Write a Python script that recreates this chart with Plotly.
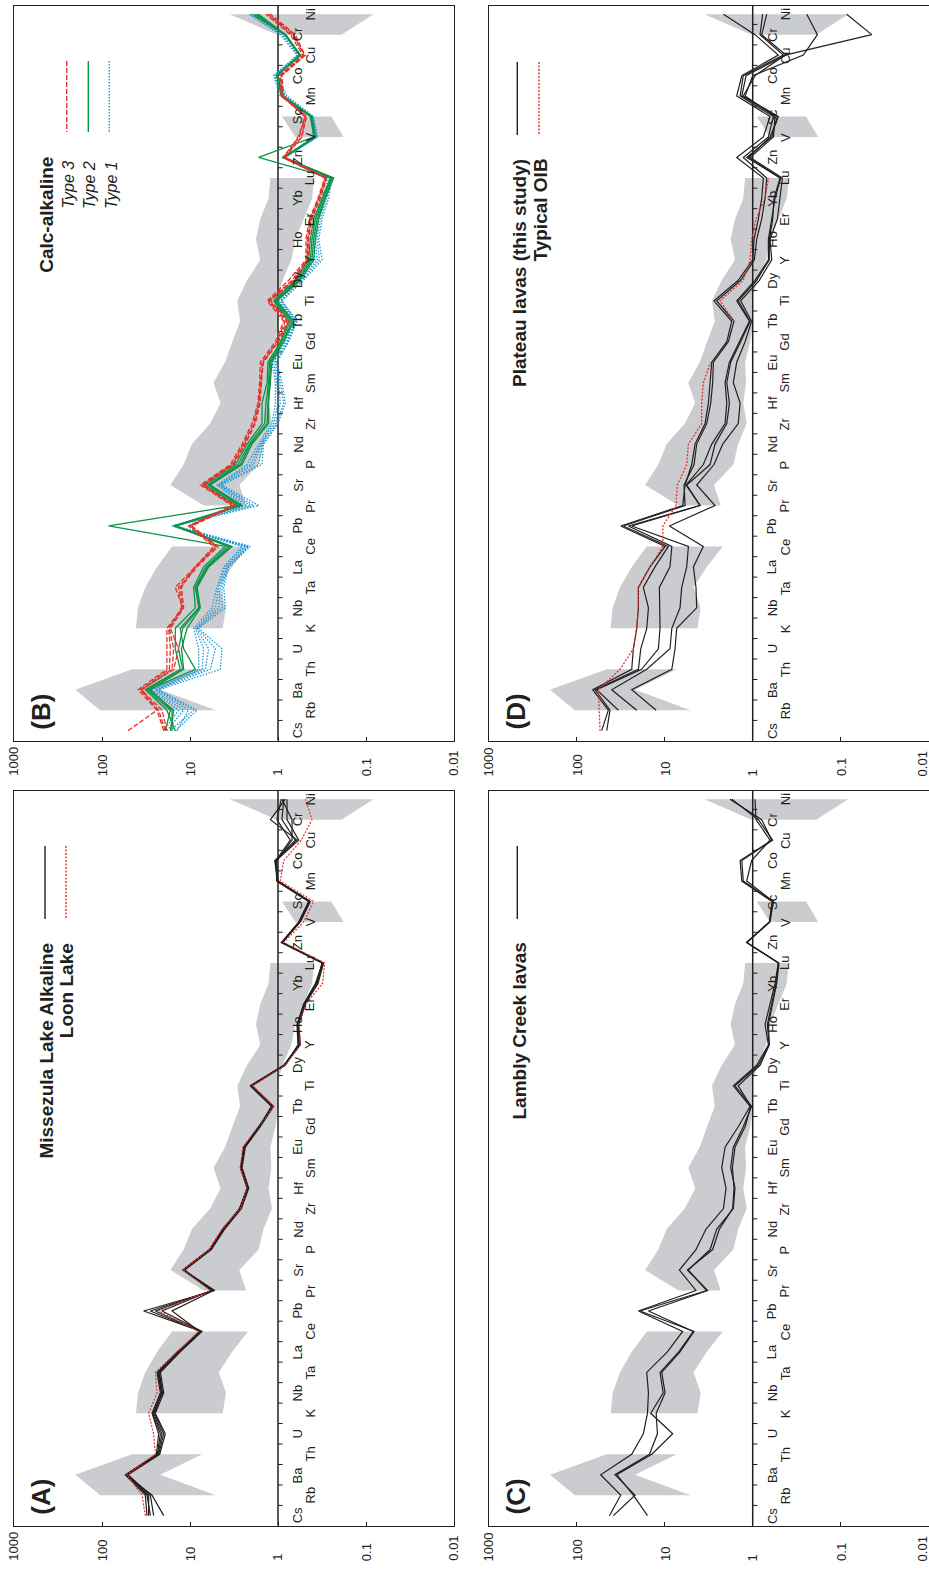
import math
import plotly.graph_objects as go

W, H = 929, 1569
N = None

ELEMENTS = ["Cs", "Rb", "Ba", "Th", "U", "K", "Nb", "Ta", "La", "Ce", "Pb", "Pr", "Sr", "P",
            "Nd", "Zr", "Hf", "Sm", "Eu", "Gd", "Tb", "Ti", "Dy", "Y", "Ho", "Er", "Yb", "Lu",
            "Zn", "V", "Sc", "Mn", "Co", "Cu", "Cr", "Ni"]

TICK_VALUES = [1000, 100, 10, 1, 0.1, 0.01]
TICK_TEXT = ["1000", "100", "10", "1", "0.1", "0.01"]

# grey reference field (upper / lower bounds, None = gap)
FIELD_UPPER = [N, 105, 201, 45.6, N, 41.1, 39.0, 32.2, 23.7, 16.0, N, 7.0, 16.7, 11.8, 9.5, 5.9,
               4.5, 5.4, 4.0, 3.3, 2.7, 2.9, 2.25, 1.59, 1.78, 1.59, 1.28, 1.22, N, 0.635, 0.90,
               N, N, N, 1.03, 3.54]
FIELD_LOWER = [N, 5.07, 21.7, 7.3, N, 4.25, 3.9, 4.7, 3.33, 2.19, N, 2.31, 2.75, 1.66, 1.46, 1.17,
               1.28, 1.19, 1.22, 1.07, 0.98, 1.03, 0.885, 0.705, 0.635, 0.51, 0.41, 0.39, N, 0.18,
               0.248, N, N, N, 0.19, 0.082]

# ---- Panel A: Missezula Lake Alkaline (black) + Loon Lake (red) ----
A_MISSEZULA = [
    [30.8, 32.2, 54.3, 24.1, 22.7, 27.0, 21.7, 23.7, 14.0, 7.43, 33.6, 5.24, 11.8, 5.87, 4.14, 2.68, 2.19, 2.61, 2.46, 1.66, 1.15, 2.01, 0.826, 0.593, 0.608, 0.511, 0.376, 0.311, 0.901, 0.582, 0.448, 1.03, 1.07, 0.635, 0.901, 0.862],
    [29.5, 29.5, 52.0, 23.1, 20.8, 25.9, 20.8, 22.7, 13.5, 7.63, 28.2, 5.53, 12.1, 6.03, 4.25, 2.75, 2.25, 2.68, 2.39, 1.63, 1.19, 2.06, 0.862, 0.573, 0.593, 0.498, 0.360, 0.316, 0.917, 0.573, 0.441, 1.03, 1.03, 0.693, 0.693, 0.901],
    [25.9, 28.2, 50.6, 22.1, 19.1, 24.8, 19.9, 21.7, 12.9, 7.31, 20.8, 5.72, 11.5, 5.72, 4.04, 2.61, 2.15, 2.56, 2.35, 1.59, 1.12, 1.97, 0.840, 0.557, 0.582, 0.489, 0.351, 0.303, 0.885, 0.557, 0.429, 1.0, 1.09, 0.608, 1.22, 0.826],
    [19.9, 27.0, 53.4, 22.7, 19.9, 25.2, 21.2, 23.1, 13.7, 7.83, 16.0, 5.38, 11.9, 5.93, 4.18, 2.70, 2.23, 2.66, 2.43, 1.66, 1.17, 2.05, 0.855, 0.582, 0.603, 0.507, 0.370, 0.313, 0.909, 0.577, 0.444, 1.02, 1.05, 0.582, 0.790, 0.790],
    [28.2, 30.8, 52.9, 23.5, 21.7, 26.6, 20.5, 22.3, 13.2, 7.53, 24.8, 5.62, 11.7, 5.82, 4.11, 2.66, 2.21, 2.63, 2.41, 1.62, 1.16, 2.03, 0.847, 0.577, 0.598, 0.502, 0.364, 0.308, 0.893, 0.568, 0.437, 1.01, 1.06, 0.724, 1.03, 0.917],
]
A_LOON = [32.2, 35.1, 52.0, 24.8, 25.9, 29.5, 23.7, 24.8, 14.0, 7.97, 22.7, 5.87, 12.1, 6.03, 4.33, 2.68, 2.25, 2.68, 2.52, 1.69, 1.12, 1.94, 0.826, 0.557, 0.573, 0.481, 0.311, 0.295, 0.862, 0.511, 0.393, 0.941, 0.862, 0.543, 0.411, 0.489]

# ---- Panel B: calc-alkaline types ----
B_TYPE3 = [
    [50.6, 23.7, 39.0, 18.3, 18.3, 18.3, 12.1, 14.7, 8.7, 5.38, 10.4, 3.33, 7.63, 3.48, 2.56, 1.97, 1.69, 1.62, 1.59, 1.07, 0.862, 1.33, 0.757, 0.481, 0.481, 0.441, 0.351, 0.295, 0.862, 0.534, 0.489, 0.901, 0.941, 0.511, 0.663, 1.28],
    [19.1, 22.7, 36.7, 17.2, 16.7, 17.5, 12.5, 13.5, 8.55, 5.15, 9.9, 3.19, 7.31, 3.33, 2.46, 1.89, 1.66, 1.56, 1.52, 1.03, 0.826, 1.28, 0.693, 0.468, 0.464, 0.429, 0.345, 0.290, 0.885, 0.573, 0.498, 0.885, 0.917, 0.498, 0.635, 1.22],
    [19.9, 23.7, 35.1, 16.0, 15.3, 17.2, 12.1, 12.9, 8.3, 4.81, 10.2, 3.11, 7.18, 3.27, 2.39, 1.84, 1.63, 1.59, 1.46, 1.0, 0.790, 1.25, 0.663, 0.464, 0.456, 0.418, 0.339, 0.285, 0.840, 0.593, 0.481, 0.917, 0.966, 0.524, 0.724, 1.37],
    [18.3, 20.8, 35.7, 15.3, 13.5, 16.7, 11.8, 12.5, 8.85, 4.93, 9.5, 3.05, 7.0, 3.19, 2.35, 1.81, 1.60, 1.53, 1.48, 0.983, 0.757, 1.22, 0.647, 0.456, 0.448, 0.411, 0.330, 0.280, 0.826, 0.543, 0.472, 0.862, 0.901, 0.489, 0.693, 1.30],
]
B_TYPE2 = [
    [14.7, 18.3, 32.2, 12.9, 14.7, 14.7, 8.7, 9.1, 7.0, 3.97, 84.0, 2.92, 6.70, 3.05, 2.25, 1.52, 1.52, 1.33, 1.30, 0.941, 0.757, 1.12, 0.635, 0.448, 0.429, 0.393, 0.316, 0.254, 1.66, 0.393, 0.418, 0.901, 1.03, 0.557, 0.826, 1.97],
    [16.7, 15.3, 29.5, 8.7, 11.8, 12.9, 7.97, 8.7, 6.58, 3.70, 15.3, 2.75, 6.24, 2.85, 2.12, 1.42, 1.37, 1.28, 1.25, 0.917, 0.724, 1.09, 0.608, 0.429, 0.411, 0.376, 0.305, 0.248, 0.862, 0.383, 0.418, 0.885, 1.03, 0.557, 0.811, 1.81],
    [19.1, 16.7, 30.8, 12.1, 13.5, 12.1, 7.83, 8.55, 6.35, 3.48, 14.9, 2.66, 6.03, 2.68, 2.05, 1.33, 1.30, 1.25, 1.21, 0.885, 0.693, 1.05, 0.582, 0.411, 0.393, 0.360, 0.295, 0.239, 0.840, 0.376, 0.411, 0.862, 1.02, 0.557, 0.840, 1.73],
    [16.0, 16.0, 28.2, 11.8, 12.5, 10.8, 7.63, 8.3, 6.14, 3.33, 14.4, 2.56, 5.87, 2.56, 1.97, 1.28, 1.28, 1.22, 1.17, 0.862, 0.663, 1.03, 0.557, 0.393, 0.376, 0.345, 0.290, 0.233, 0.862, 0.390, 0.429, 0.917, 1.035, 0.573, 0.826, 1.66],
]
B_TYPE1 = [
    [19.9, 13.5, 28.2, 7.97, 7.97, 9.1, 5.62, 4.93, 4.14, 2.56, 16.0, 2.46, 4.93, 2.25, 1.66, 1.17, 1.07, 1.07, 1.17, 0.862, 0.663, 1.03, 0.608, 0.411, 0.411, 0.376, 0.316, 0.278, 0.901, 0.376, 0.429, 0.941, 1.12, 0.608, 0.941, 2.15],
    [18.3, 11.8, 26.6, 7.31, 7.0, 8.7, 5.15, 4.72, 3.97, 2.39, 15.7, 2.25, 4.81, 2.06, 1.59, 1.12, 1.0, 1.03, 1.12, 0.826, 0.647, 0.983, 0.582, 0.383, 0.393, 0.360, 0.303, 0.266, 0.885, 0.370, 0.418, 0.901, 1.09, 0.593, 0.901, 2.06],
    [14.0, 10.4, 24.8, 6.70, 6.14, 8.47, 4.72, 4.52, 3.80, 2.25, 15.2, 2.06, 4.64, 1.89, 1.55, 1.07, 0.941, 0.983, 1.07, 0.790, 0.635, 0.941, 0.557, 0.360, 0.376, 0.345, 0.290, 0.254, 0.862, 0.364, 0.411, 0.862, 1.07, 0.582, 0.862, 1.97],
    [16.7, 9.1, 23.7, 5.87, 5.15, 8.25, 4.33, 4.33, 3.70, 2.15, 14.9, 1.89, 4.48, 1.66, 1.49, 1.03, 0.862, 0.941, 1.04, 0.770, 0.619, 0.917, 0.534, 0.339, 0.360, 0.330, 0.278, 0.248, 0.840, 0.360, 0.404, 0.826, 1.04, 0.568, 0.840, 1.89],
    [14.7, 8.3, 22.7, 4.52, 4.33, 7.97, 3.97, 4.14, 3.64, 2.06, 14.7, 1.66, 4.33, 1.52, 1.46, 1.0, 0.826, 0.901, 1.03, 0.757, 0.608, 0.901, 0.511, 0.316, 0.345, 0.316, 0.266, 0.243, 0.826, 0.357, 0.393, 0.790, 1.03, 0.557, 0.826, 1.81],
]

# ---- Panel C: Lambly Creek lavas ----
C_LAMBLY = [
    [42.5, 31.6, 53.4, 23.7, 17.5, 15.7, 15.3, 16.0, 9.33, 6.24, 19.9, 4.41, 6.81, 4.41, 3.39, 2.15, 2.01, 2.25, 2.06, 1.46, 1.07, 1.66, 0.901, 0.663, 0.724, 0.635, 0.557, 0.511, 1.17, 0.647, 0.603, 1.33, 1.39, 0.608, 0.790, 1.81],
    [38.3, 21.7, 36.7, 14.9, 12.1, 12.5, 9.9, 10.8, 6.70, 4.64, 19.1, 3.33, 5.38, 3.05, 2.56, 1.66, 1.59, 1.78, 1.66, 1.28, 1.03, 1.59, 0.862, 0.652, 0.681, 0.608, 0.543, 0.511, 1.17, 0.647, 0.593, 1.28, 1.33, 0.593, 0.862, 1.73],
    [15.7, 22.7, 35.1, 14.0, 8.11, 14.4, 10.4, 11.3, 6.93, 4.72, 15.3, 3.25, 5.53, 2.85, 2.39, 1.69, 1.63, 1.70, 1.59, 1.22, 1.05, 1.46, 0.826, 0.647, 0.663, 0.593, 0.534, 0.502, 1.17, 0.635, 0.582, 1.17, 1.03, 0.635, 0.917, 0.941],
]

# ---- Panel D: Plateau lavas + typical OIB ----
D_PLATEAU = [
    [52.0, 43.7, 65.8, 23.7, 22.7, 20.8, 19.9, 19.9, 14.7, 9.9, 31.6, 6.24, 5.87, 4.93, 4.52, 3.48, 3.19, 3.05, 2.92, 1.97, 1.73, 2.75, 1.46, 1.0, 0.966, 0.862, 0.790, 0.757, 1.52, 0.757, 0.635, 1.52, 1.33, 0.511, 0.941, 2.15],
    [45.6, 41.8, 61.9, 19.9, 18.7, 16.0, 15.3, 17.5, 12.9, 9.1, 29.5, 5.87, 6.03, 4.64, 4.33, 3.33, 3.00, 2.85, 2.80, 1.89, 1.63, 2.56, 1.37, 0.957, 0.901, 0.790, 0.724, 0.693, 1.28, 0.663, 0.582, 1.39, 1.28, 0.448, 0.826, 0.770],
    [N, 20.8, 40.0, 16.0, 8.7, 8.3, 6.70, 6.41, 5.62, 5.38, 23.7, 3.97, 5.62, 3.05, 2.68, 1.97, 1.84, 1.97, 1.78, 1.37, 1.07, 1.46, 0.901, 0.647, 0.647, 0.593, 0.573, 0.489, 1.17, 0.608, 0.524, 1.33, 1.19, 0.418, 0.790, 0.693],
    [N, 12.5, 23.7, 8.3, 7.63, 7.31, 4.33, 4.41, 4.72, 3.64, 8.85, 2.68, 4.33, 2.75, 2.19, 1.46, 1.39, 1.66, 1.52, 1.22, 1.03, 1.37, 0.840, 0.608, 0.635, 0.524, 0.489, 0.460, 1.07, 0.582, 0.557, 1.22, 1.0, 0.266, 0.184, 0.243],
    [N, 33.6, 59.3, 18.3, 11.8, 11.3, 11.5, 11.5, 8.7, 8.3, 25.9, 3.97, 5.72, 3.64, 2.92, 2.06, 1.97, 2.06, 1.84, 1.42, 1.09, 1.52, 0.941, 0.663, 0.663, 0.608, 0.557, 0.481, 1.12, 0.635, 0.511, 1.28, 0.941, 0.429, 0.0444, 0.0855],
]
D_OIB = [54.3, 55.3, 56.7, 32.2, 22.7, 20.8, 19.9, 19.9, 14.7, 10.5, 10.5, 7.43, 7.18, 5.62, 5.38, 3.80, 3.80, 3.64, 3.00, N, 1.63, 2.35, 1.28, 1.07, 1.03, 0.917, 0.724, 0.663, N, N, N, N, N, N, N, N]

# ---------------- styling ----------------
INK = "#231f20"
RED = "#e5322b"
GREEN = "#0b9447"
BLUE = "#1b9bd7"
GREY = "#cbcccf"
FONT = "Liberation Sans, Arial, Helvetica, sans-serif"

COLS = {"L": (14.0, 454.0), "R": (488.7, 928.7)}
ROWS = {"T": (6.0, 740.7), "B": (791.0, 1525.7)}
YR = [-0.49, 35.4]

PANELS = {
    "B": ("", "L", "T"),
    "D": ("2", "R", "T"),
    "A": ("3", "L", "B"),
    "C": ("4", "R", "B"),
}

SERIES = {
    "A": [(s, INK, "solid", 1.2) for s in A_MISSEZULA] + [(A_LOON, RED, "2px,1.5px", 1.2)],
    "B": [(s, BLUE, "1.5px,1.5px", 1.3) for s in B_TYPE1]
         + [(s, GREEN, "solid", 1.3) for s in B_TYPE2]
         + [(s, RED, "5px,2px", 1.3) for s in B_TYPE3],
    "C": [(s, INK, "solid", 1.2) for s in C_LAMBLY],
    "D": [(s, INK, "solid", 1.2) for s in D_PLATEAU] + [(D_OIB, RED, "2px,1.5px", 1.3)],
}

fig = go.Figure()
ypos = list(range(len(ELEMENTS)))


def px(x):
    return x / W


def py(y):
    return 1 - y / H


annotations = []
shapes = []
layout_axes = {}

for name, (suf, col, row) in PANELS.items():
    xa, ya = "x" + suf, "y" + suf
    c0, c1 = COLS[col]
    r0, r1 = ROWS[row]
    layout_axes["xaxis" + suf] = dict(
        type="log", range=[3, -2], domain=[px(c0), px(c1)], anchor=ya,
        showline=True, mirror=True, linecolor=INK, linewidth=1.3,
        ticks="inside", ticklen=4, tickwidth=1, tickcolor=INK, dtick=1,
        showticklabels=False, showgrid=False, zeroline=False)
    layout_axes["yaxis" + suf] = dict(
        range=YR, domain=[py(r1), py(r0)], anchor=xa,
        showline=True, mirror=True, linecolor=INK, linewidth=1.3,
        ticks="", showticklabels=False, showgrid=False, zeroline=False)

    # grey field, drawn segment by segment
    seg = []
    for i in range(len(ELEMENTS) + 1):
        ok = i < len(ELEMENTS) and FIELD_UPPER[i] is not None
        if ok:
            seg.append(i)
        elif seg:
            xs = [FIELD_UPPER[j] for j in seg] + [FIELD_LOWER[j] for j in reversed(seg)]
            ys = [ypos[j] for j in seg] + [ypos[j] for j in reversed(seg)]
            fig.add_trace(go.Scatter(x=xs, y=ys, xaxis=xa, yaxis=ya, mode="lines",
                                     fill="toself", fillcolor=GREY, line=dict(width=0),
                                     hoverinfo="skip", showlegend=False))
            seg = []

    # reference line at 1 and small ticks between elements
    fig.add_trace(go.Scatter(x=[1, 1], y=YR, xaxis=xa, yaxis=ya, mode="lines",
                             line=dict(color=INK, width=1.5), hoverinfo="skip", showlegend=False))
    tx, ty = [], []
    for i in range(len(ELEMENTS) - 1):
        tx += [1, 0.885, None]
        ty += [i + 0.5, i + 0.5, None]
    fig.add_trace(go.Scatter(x=tx, y=ty, xaxis=xa, yaxis=ya, mode="lines",
                             line=dict(color=INK, width=1), hoverinfo="skip", showlegend=False))

    for vals, colr, dash, w in SERIES[name]:
        fig.add_trace(go.Scatter(x=vals, y=ypos, xaxis=xa, yaxis=ya, mode="lines",
                                 line=dict(color=colr, width=w, dash=dash),
                                 hoverinfo="skip", showlegend=False))

    # element labels (two staggered columns)
    for i, el in enumerate(ELEMENTS):
        annotations.append(dict(
            x=math.log10(0.598 if i % 2 == 0 else 0.43), y=i, xref=xa, yref=ya,
            text=el, textangle=-90, showarrow=False, xanchor="center", yanchor="middle",
            font=dict(family=FONT, size=13, color=INK)))

    # value axis labels
    for v, t in zip(TICK_VALUES, TICK_TEXT):
        shift = -6 if (col == "R" and v == 0.01) else 0
        annotations.append(dict(
            x=math.log10(v), y=py(r1 + 37.5), xref=xa, yref="paper", xshift=shift,
            text=t, textangle=-90, showarrow=False, xanchor="center", yanchor="bottom",
            font=dict(family=FONT, size=13, color=INK)))

    # panel letter
    annotations.append(dict(
        x=px(c0 + 27), y=py(r1 - 9), xref="paper", yref="paper",
        text="<b>(" + name + ")</b>", textangle=-90, showarrow=False,
        xanchor="center", yanchor="bottom", font=dict(family=FONT, size=26, color=INK)))


def leg_text(x, y, text, anchor, size=19):
    annotations.append(dict(x=px(x), y=py(y), xref="paper", yref="paper", text=text,
                            textangle=-90, showarrow=False, xanchor="center", yanchor=anchor,
                            font=dict(family=FONT, size=size, color=INK)))


def leg_line(x, y0, y1, color, dash):
    shapes.append(dict(type="line", xref="paper", yref="paper", x0=px(x), x1=px(x),
                       y0=py(y0), y1=py(y1), line=dict(color=color, width=1.4, dash=dash)))


# Panel B legend
leg_text(45.8, 155, "<b>Calc-alkaline</b>", "top")
leg_text(67.5, 211, "<i>Type 3</i>", "bottom", 16)
leg_text(89, 211, "<i>Type 2</i>", "bottom", 16)
leg_text(111, 211, "<i>Type 1</i>", "bottom", 16)
leg_line(66.7, 61, 132, RED, "5px,2px")
leg_line(88.3, 61, 132, GREEN, "solid")
leg_line(109.3, 61, 132, BLUE, "1.5px,1.5px")

# Panel D legend
leg_text(519, 157, "<b>Plateau lavas (this study)</b>", "top")
leg_text(540, 157, "<b>Typical OIB</b>", "top")
leg_line(517.3, 62, 135, INK, "solid")
leg_line(539, 62, 135, RED, "2px,1.5px")

# Panel A legend
leg_text(45.6, 941, "<b>Missezula Lake Alkaline</b>", "top")
leg_text(66.7, 941, "<b>Loon Lake</b>", "top")
leg_line(45, 846, 919, INK, "solid")
leg_line(66, 846, 919, RED, "2px,1.5px")

# Panel C legend
leg_text(519, 941, "<b>Lambly Creek lavas</b>", "top")
leg_line(517.3, 846, 919, INK, "solid")

fig.update_layout(
    width=W, height=H, margin=dict(l=0, r=0, t=0, b=0),
    paper_bgcolor="white", plot_bgcolor="white",
    font=dict(family=FONT, color=INK), showlegend=False,
    annotations=annotations, shapes=shapes, **layout_axes)

fig.write_html("out.html")
